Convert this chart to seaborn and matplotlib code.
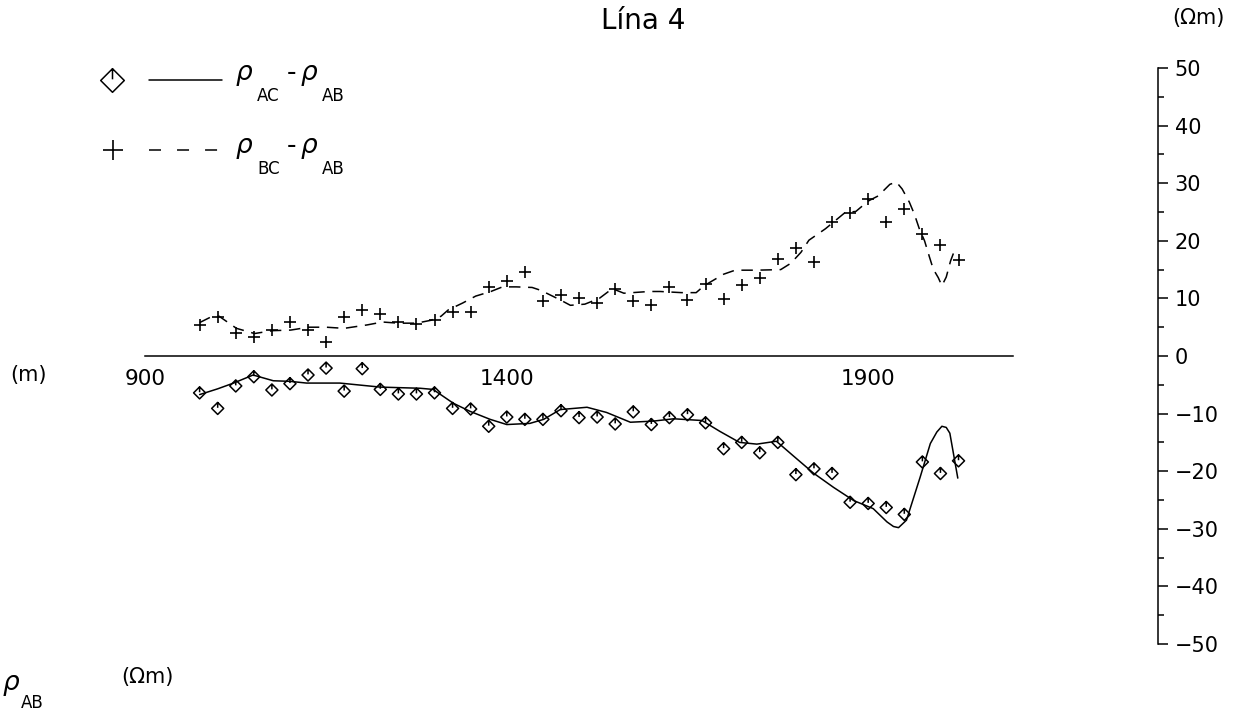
import matplotlib
matplotlib.use("Agg")
import matplotlib.pyplot as plt
import seaborn as sns
from matplotlib.path import Path
from matplotlib.lines import Line2D

# ---------------------------------------------------------------------------
# Profile data (Línea 4): apparent-resistivity differences along the line
# ---------------------------------------------------------------------------
stations = [975, 1000, 1025, 1050, 1075, 1100, 1125, 1150, 1175, 1200, 1225,
            1250, 1275, 1300, 1325, 1350, 1375, 1400, 1425, 1450, 1475, 1500,
            1525, 1550, 1575, 1600, 1625, 1650, 1675, 1700, 1725, 1750, 1775,
            1800, 1825, 1850, 1875, 1900, 1925, 1950, 1975, 2000, 2025]

# rho_AC - rho_AB (measured)
rho_ac_ab = [-6.4, -9.1, -5.2, -3.6, -5.9, -4.8, -3.3, -2.1, -6.1, -2.2, -5.8,
             -6.6, -6.6, -6.4, -9.1, -9.2, -12.2, -10.6, -11.0, -11.0, -9.5, -10.7,
             -10.6, -11.8, -9.7, -11.9, -10.7, -10.2, -11.6, -16.1, -15.0, -16.8, -15.0,
             -20.6, -19.6, -20.4, -25.4, -25.6, -26.3, -27.5, -18.4, -20.4, -18.2]

# rho_BC - rho_AB (measured)
rho_bc_ab = [5.4, 6.8, 4.0, 3.3, 4.5, 5.9, 4.5, 2.5, 6.7, 7.9, 7.3,
             5.9, 5.5, 6.2, 7.6, 7.6, 12.0, 13.0, 14.5, 9.5, 10.6, 10.0,
             9.2, 11.7, 9.6, 8.9, 12.0, 9.8, 12.5, 9.9, 12.3, 13.5, 16.9,
             18.8, 16.3, 23.3, 24.8, 27.2, 23.3, 25.5, 21.2, 19.2, 16.6]

# smoothed rho_AC - rho_AB curve
ac_curve_x = [975, 1000, 1022, 1049, 1077, 1100, 1123, 1169, 1225, 1280, 1298,
              1326, 1349, 1377, 1400, 1432, 1451, 1474, 1511, 1538, 1571, 1603,
              1631, 1670, 1695, 1722, 1746, 1773, 1797, 1824, 1852, 1880, 1907,
              1926, 1935, 1942, 1953, 1972, 1986, 1995, 2002, 2008, 2013, 2024]
ac_curve_y = [-6.7, -5.7, -4.7, -3.3, -4.3, -4.4, -4.7, -4.7, -5.4, -5.6, -5.8,
              -8.2, -9.6, -11.0, -11.9, -11.7, -11.0, -9.3, -8.9, -9.8, -11.5, -11.3,
              -10.9, -11.2, -13.1, -15.0, -15.3, -14.8, -17.4, -20.3, -22.8, -25.1, -26.5,
              -28.8, -29.6, -29.8, -28.5, -21.0, -15.2, -13.2, -12.2, -12.4, -13.4, -21.2]

# smoothed rho_BC - rho_AB curve
bc_curve_x = [975, 991, 1002, 1026, 1051, 1076, 1101, 1126, 1150, 1175, 1207,
              1228, 1250, 1275, 1295, 1309, 1319, 1339, 1357, 1378, 1394, 1413,
              1435, 1447, 1473, 1488, 1508, 1528, 1546, 1562, 1597, 1612, 1642,
              1662, 1673, 1700, 1716, 1746, 1779, 1793, 1807, 1818, 1841, 1868,
              1883, 1900, 1914, 1930, 1939, 1947, 1957, 1964, 1971, 1978, 1985,
              1990, 1997, 2002, 2008, 2014, 2020]
bc_curve_y = [5.8, 6.8, 6.9, 4.8, 3.9, 4.4, 4.5, 5.0, 5.0, 4.8, 5.4,
              5.9, 5.7, 5.7, 6.2, 6.9, 8.0, 9.2, 10.4, 11.2, 12.0, 12.0,
              11.9, 11.4, 9.8, 8.8, 9.0, 10.0, 11.7, 10.9, 11.2, 11.2, 11.0,
              11.0, 12.2, 14.2, 14.9, 14.9, 15.0, 16.1, 18.0, 20.1, 22.1, 24.9,
              25.1, 26.9, 27.8, 29.8, 30.2, 29.0, 26.7, 24.6, 22.0, 20.0, 17.1,
              15.1, 13.6, 12.2, 13.7, 16.5, 18.5]

x_ticks = [900, 1000, 1100, 1200, 1300, 1400, 1500, 1600, 1700, 1800, 1900, 2000, 2100]
x_tick_labels = ["900", "", "", "", "", "1400", "", "", "", "", "1900", "", ""]
y_ticks = [-50, -40, -30, -20, -10, 0, 10, 20, 30, 40, 50]
y_minor_ticks = [-45, -35, -25, -15, -5, 5, 15, 25, 35, 45]

# ---------------------------------------------------------------------------
sns.set_style("white")
plt.rcParams["font.family"] = ["DejaVu Sans"]
plt.rcParams["mathtext.fontset"] = "dejavusans"
plt.rcParams["text.color"] = "black"

W, H = 1235, 716
fig = plt.figure(figsize=(W / 100, H / 100), dpi=100)
fig.patch.set_facecolor("white")


def fx(px):
    return px / W


def fy(py):
    return 1 - py / H


# axes frame: x from 900 m to the right-hand resistivity scale
AX_L, AX_R, AX_T, AX_B = 145.4, 1158.0, 68.0, 644.0
ax = fig.add_axes([fx(AX_L), fy(AX_B), (AX_R - AX_L) / W, (AX_B - AX_T) / H])
ax.set_xlim(900, 2301)
ax.set_ylim(-50, 50)
ax.patch.set_alpha(0)

LW = 1.1
ax.spines["top"].set_visible(False)
ax.spines["left"].set_visible(False)
ax.spines["bottom"].set_position(("data", 0))
ax.spines["bottom"].set_bounds(900, 2100)
ax.spines["right"].set_bounds(-50, 50)
for s in ("bottom", "right"):
    ax.spines[s].set_linewidth(LW)
    ax.spines[s].set_color("black")

ax.set_xticks(x_ticks)
ax.set_xticklabels(x_tick_labels)
ax.tick_params(axis="x", direction="out", length=5.5, width=LW, pad=4,
               labelsize=15.5, colors="black")

ax.yaxis.tick_right()
ax.set_yticks(y_ticks)
ax.set_yticks(y_minor_ticks, minor=True)
ax.tick_params(axis="y", which="major", direction="out", length=7, width=LW,
               pad=5, labelsize=15, colors="black")
ax.tick_params(axis="y", which="minor", direction="out", length=4, width=LW,
               colors="black")

# diamond with a short stroke from the top vertex towards the centre
diamond = Path([(0, 1), (1, 0), (0, -1), (-1, 0), (0, 1), (0, 1), (0, 0.1)],
               [Path.MOVETO, Path.LINETO, Path.LINETO, Path.LINETO, Path.CLOSEPOLY,
                Path.MOVETO, Path.LINETO])

BC_DASH = (0, (7.5, 5))

sns.lineplot(x=ac_curve_x, y=ac_curve_y, ax=ax, color="black", lw=LW,
             sort=False, estimator=None)
sns.lineplot(x=bc_curve_x, y=bc_curve_y, ax=ax, color="black", lw=LW,
             linestyle=BC_DASH, sort=False, estimator=None)
sns.scatterplot(x=stations, y=rho_ac_ab, ax=ax, marker=diamond, s=75,
                facecolors="none", edgecolors="black", linewidths=1.1)
sns.scatterplot(x=stations, y=rho_bc_ab, ax=ax, marker="+", s=80,
                color="black", linewidths=1.2)
ax.set_xlabel("")
ax.set_ylabel("")

# ---------------------------------------------------------------------------
# key (upper left)
# ---------------------------------------------------------------------------
fig.add_artist(Line2D([fx(112)], [fy(80)], marker=diamond, markersize=17,
                      mfc="none", mec="black", mew=1.1, ls="none",
                      transform=fig.transFigure))
fig.add_artist(Line2D([fx(149), fx(222)], [fy(80), fy(80)], color="black", lw=LW,
                      transform=fig.transFigure))
fig.add_artist(Line2D([fx(113)], [fy(150)], marker="+", markersize=14,
                      mec="black", mew=1.2, ls="none",
                      transform=fig.transFigure))
fig.add_artist(Line2D([fx(149), fx(222)], [fy(150), fy(150)], color="black", lw=LW,
                      ls=(0, (7.85, 10.5)), transform=fig.transFigure))


def key_label(base, first_sub):
    fig.text(fx(235), fy(base), r"$\rho$", ha="left", va="baseline", fontsize=19)
    fig.text(fx(257), fy(base + 21), first_sub, ha="left", va="baseline", fontsize=12)
    fig.text(fx(287), fy(base), "-", ha="left", va="baseline", fontsize=19)
    fig.text(fx(300), fy(base), r"$\rho$", ha="left", va="baseline", fontsize=19)
    fig.text(fx(322), fy(base + 21), "AB", ha="left", va="baseline", fontsize=12)


key_label(80, "AC")
key_label(153, "BC")

# ---------------------------------------------------------------------------
# titles and unit labels
# ---------------------------------------------------------------------------
fig.text(fx(643), fy(21), "Lína 4", ha="center", va="center", fontsize=20)
fig.text(fx(1198), fy(18), "(Ωm)", ha="center", va="center", fontsize=15)
fig.text(fx(28), fy(375), "(m)", ha="center", va="center", fontsize=15)
fig.text(fx(2), fy(690), r"$\rho$", ha="left", va="baseline", fontsize=19)
fig.text(fx(21), fy(708), "AB", ha="left", va="baseline", fontsize=12)
fig.text(fx(147), fy(677), "(Ωm)", ha="center", va="center", fontsize=15)

fig.savefig("out.png", dpi=100)
